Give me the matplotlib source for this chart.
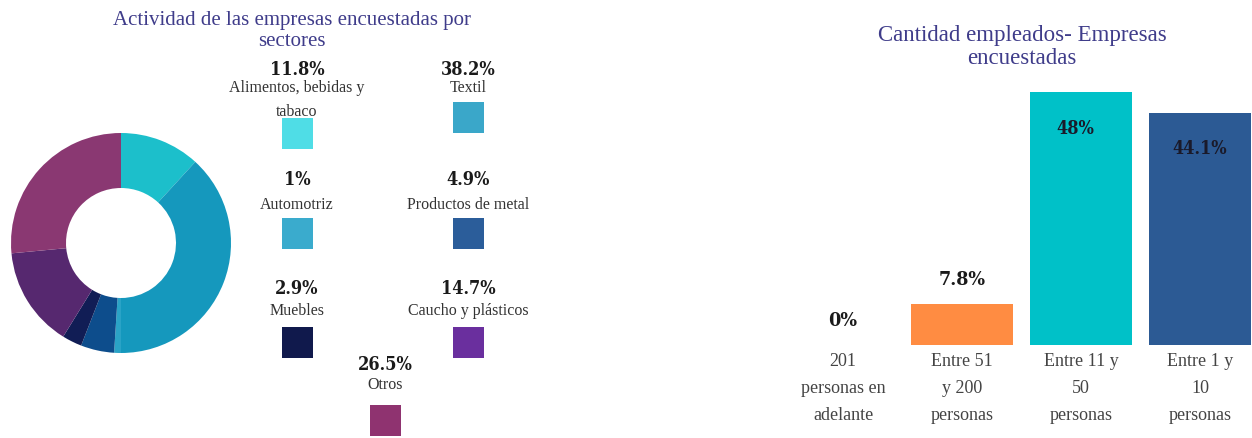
import matplotlib.pyplot as plt
from matplotlib.patches import Rectangle

# Donut: actividad por sectores
sectores = ['Alimentos, bebidas y\ntabaco', 'Textil', 'Automotriz', 'Productos de metal',
            'Muebles', 'Caucho y plásticos', 'Otros']
sector_pct = [11.8, 38.2, 1, 4.9, 2.9, 14.7, 26.5]
sector_txt = ['11.8%', '38.2%', '1%', '4.9%', '2.9%', '14.7%', '26.5%']
donut_colors = ['#1cbfcb', '#1598bd', '#2aa3c6', '#0d4d8c', '#111d55', '#56286f', '#8a3872']
swatch_colors = ['#4fdde6', '#3aa7c9', '#3aabcd', '#2b5d9a', '#10194c', '#6a2f9e', '#8f3370']

# Barras: cantidad de empleados
tamanos = ['201\npersonas en\nadelante', 'Entre 51\ny 200\npersonas',
           'Entre 11 y\n50\npersonas', 'Entre 1 y\n10\npersonas']
tamano_pct = [0, 7.8, 48, 44.1]
tamano_txt = ['0%', '7.8%', '48%', '44.1%']
bar_colors = ['#ff8c42', '#ff8c42', '#00c1c8', '#2c5a94']

W, H = 1252, 438
fig = plt.figure(figsize=(W / 100, H / 100), dpi=100)
serif = 'Liberation Serif'
bold = 'DejaVu Serif'
title_col = '#3f3c8a'

# overlay axes in pixel coords for titles and legend
ov = fig.add_axes([0, 0, 1, 1])
ov.set_xlim(0, W)
ov.set_ylim(H, 0)
ov.axis('off')

# donut
cx, cy, r = 121, 243, 110
ax1 = fig.add_axes([(cx - r) / W, (H - cy - r) / H, 2 * r / W, 2 * r / H])
ax1.pie(sector_pct, colors=donut_colors, startangle=90, counterclock=False,
        radius=1, wedgeprops=dict(width=0.5, linewidth=0))
ax1.set_xlim(-1, 1)
ax1.set_ylim(-1, 1)
ax1.set_aspect('equal')

ov.text(292, 31, 'Actividad de las empresas encuestadas por\nsectores', ha='center', va='center',
        fontsize=15, family=serif, color=title_col, linespacing=1.15)

# legend grid: x center, y of percentage, y of label, y top of swatch
leg_x = [297, 468, 297, 468, 297, 468, 385]
leg_y = [70, 70, 180, 180, 289, 289, 365]
lab_y = [100, 88, 205, 205, 311, 311, 385]
sw_y = [118, 102, 218, 218, 327, 327, 405]
for i in range(len(sectores)):
    x = leg_x[i]
    ov.text(x, leg_y[i], sector_txt[i], ha='center', va='center', fontsize=13,
            family=bold, stretch='condensed', weight='bold', color='#1a1a1a')
    ov.text(x, lab_y[i], sectores[i], ha='center', va='center',
            fontsize=11.5, family=serif, color='#333333', linespacing=1.75)
    ov.add_patch(Rectangle((x - 15.5, sw_y[i]), 31, 31, color=swatch_colors[i], lw=0))

# bar chart
base = 345
px_per = 5.27
x0, step = 783.5, 119
ax2 = fig.add_axes([x0 / W, (H - base) / H, 4 * step / W, 50 * px_per / H])
xs = range(len(tamanos))
ax2.bar(xs, tamano_pct, width=0.86, color=bar_colors)
ax2.set_xlim(-0.5, 3.5)
ax2.set_ylim(0, 50)
for s in ax2.spines.values():
    s.set_visible(False)
ax2.set_yticks([])
ax2.set_xticks(list(xs))
ax2.set_xticklabels(tamanos, family=serif, fontsize=13, color='#444444', linespacing=1.75)
ax2.tick_params(axis='x', length=0, pad=6)
for i, v in enumerate(tamano_pct):
    if v > 20:
        ax2.text(i - 0.05 if i == 2 else i, v - 7, tamano_txt[i], ha='center', va='center',
                 fontsize=13, family=bold, stretch='condensed', weight='bold', color='#1a1a2a')
    else:
        ax2.text(i, v + 4.6, tamano_txt[i], ha='center', va='center',
                 fontsize=14, family=bold, stretch='condensed', weight='bold', color='#1a1a1a')

ov.text(1022, 47, 'Cantidad empleados- Empresas\nencuestadas', ha='center', va='center',
        fontsize=16.5, family=serif, color=title_col, linespacing=1.08)

fig.savefig('out.png', dpi=100)
